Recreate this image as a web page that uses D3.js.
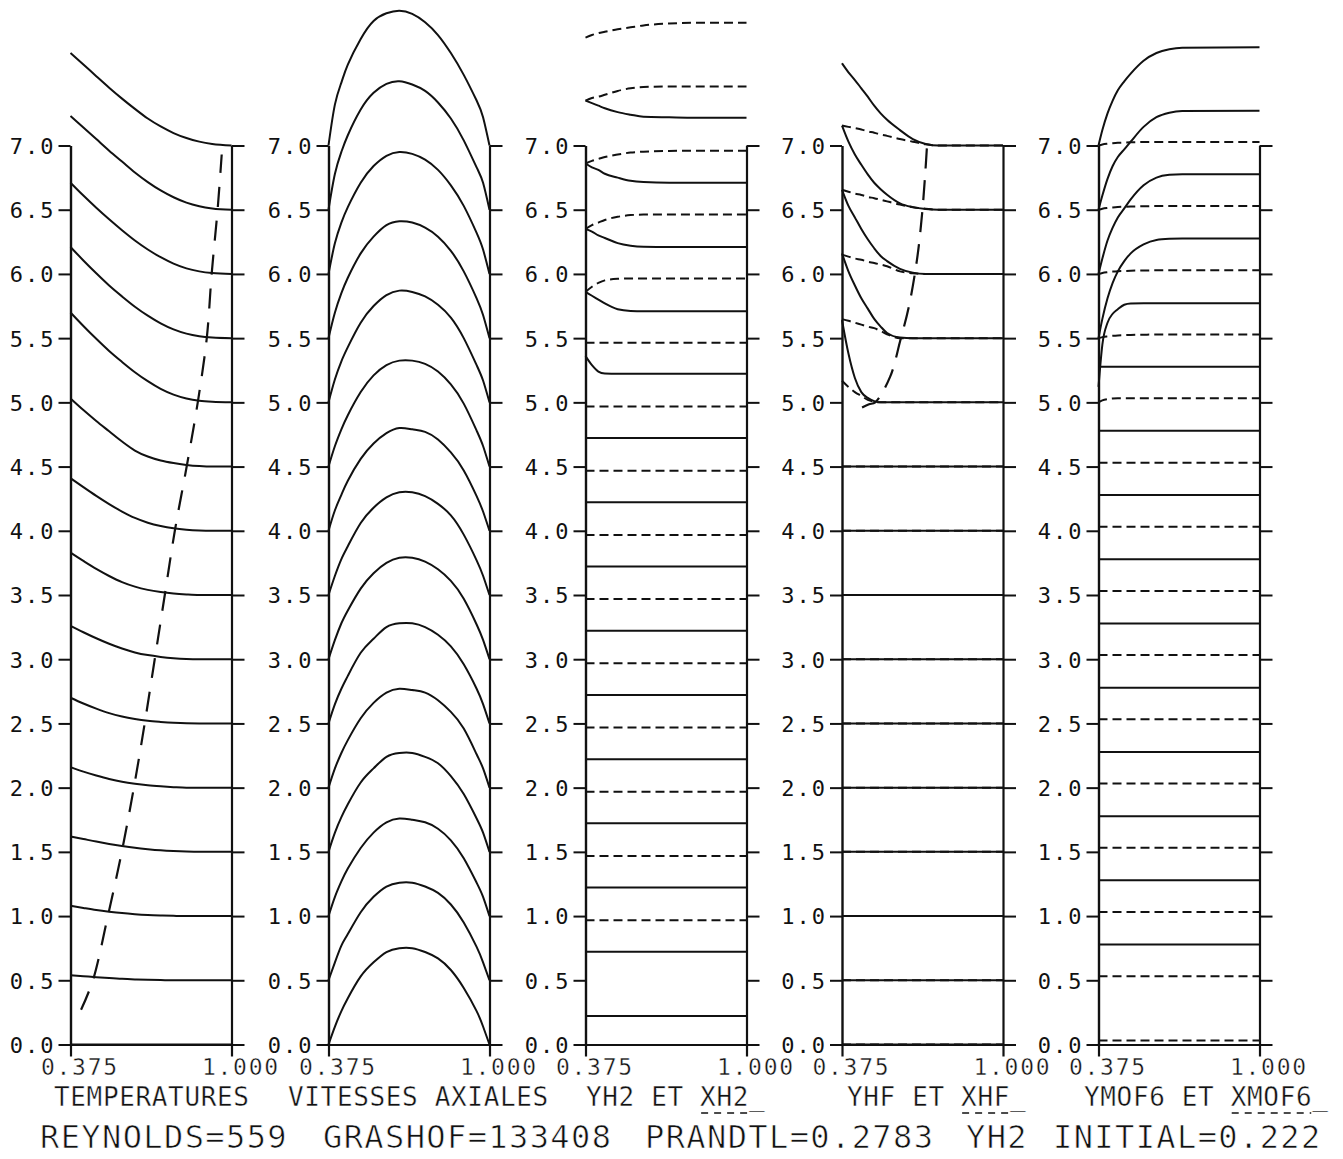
<!DOCTYPE html>
<html><head><meta charset="utf-8">
<script src="https://cdn.jsdelivr.net/npm/d3@7"></script>
<style>
html,body{margin:0;padding:0;background:#fff;}
svg{display:block;background:#fff;}
text{font-family:"DejaVu Sans Mono",monospace;fill:#111;}
.thin{stroke:#fff;stroke-width:0.4px;paint-order:normal;}
.thin2{stroke:#fff;stroke-width:0.7px;paint-order:normal;}
</style></head><body>
<svg id="chart" width="1343" height="1159"></svg>
<script>
// ---------------- DATA ----------------
// vertical offset of each stacked profile (one profile per axial station)
const OFFSETS = [0,0.5,1,1.5,2,2.5,3,3.5,4,4.5,5,5.5,6,6.5,7];
const Y_TICKS = [0,0.5,1,1.5,2,2.5,3,3.5,4,4.5,5,5.5,6,6.5,7];
const X_TICKS = [0.375, 1.0];
const PANEL_TITLES = ["TEMPERATURES","VITESSES AXIALES","YH2 ET XH2_","YHF ET XHF_","YMOF6 ET XMOF6_"];
const FOOTER = ["REYNOLDS=559","GRASHOF=133408","PRANDTL=0.2783","YH2","INITIAL=0.222"];

// Panel 1 : temperatures (excess above each station offset)
const T_X = [0.375,0.425,0.475,0.525,0.575,0.625,0.675,0.725,0.775,0.825,0.875,0.925,1.0];
const T_VAL = [
 [0,0,0,0,0,0,0,0,0,0,0,0,0],
 [0.04,0.032,0.024,0.017,0.011,0.007,0.004,0.002,0,0,0,0,0],
 [0.08,0.063,0.047,0.034,0.023,0.015,0.009,0.005,0.002,0,0,0,0],
 [0.12,0.10,0.08,0.062,0.046,0.032,0.021,0.012,0.006,0.002,0,0,0],
 [0.16,0.125,0.095,0.068,0.046,0.03,0.018,0.01,0.004,0,0,0,0],
 [0.20,0.155,0.115,0.08,0.054,0.035,0.021,0.012,0.005,0.001,0,0,0],
 [0.26,0.21,0.163,0.12,0.083,0.053,0.032,0.018,0.008,0.002,0,0,0],
 [0.33,0.265,0.203,0.148,0.10,0.065,0.04,0.023,0.011,0.004,0,0,0],
 [0.41,0.34,0.272,0.208,0.15,0.10,0.063,0.037,0.019,0.008,0.002,0,0],
 [0.53,0.44,0.355,0.275,0.195,0.125,0.078,0.047,0.027,0.013,0.004,0,0],
 [0.70,0.595,0.495,0.40,0.315,0.235,0.165,0.105,0.06,0.03,0.012,0.004,0],
 [0.71,0.605,0.505,0.41,0.325,0.245,0.175,0.115,0.068,0.035,0.015,0.005,0],
 [0.71,0.61,0.515,0.425,0.34,0.26,0.19,0.13,0.08,0.043,0.02,0.007,0],
 [0.73,0.64,0.55,0.46,0.375,0.29,0.215,0.15,0.097,0.055,0.027,0.01,0],
 [0.72,0.63,0.54,0.45,0.365,0.285,0.21,0.148,0.097,0.058,0.03,0.012,0]
];
const T_FRONT_X = [0.416,0.462,0.520,0.574,0.621,0.663,0.702,0.741,0.780,0.826,0.869,0.904,0.923,0.946,0.962];
const T_FRONT_Y = [0.27,0.5,1.0,1.5,2.0,2.5,3.0,3.5,4.0,4.5,5.0,5.5,6.0,6.5,6.93];

// Panel 2 : axial velocities
const V_X = [0.375,0.40,0.425,0.45,0.50,0.55,0.60,0.65,0.70,0.75,0.80,0.85,0.90,0.95,0.975,1.0];
const V_VAL = [
 [0,0.14,0.26,0.36,0.53,0.64,0.72,0.75,0.75,0.72,0.67,0.58,0.44,0.26,0.14,0],
 [0,0.14,0.27,0.36,0.53,0.65,0.73,0.76,0.76,0.73,0.68,0.59,0.45,0.26,0.14,0],
 [0,0.15,0.27,0.37,0.53,0.65,0.73,0.76,0.75,0.73,0.68,0.59,0.45,0.26,0.15,0],
 [0,0.15,0.27,0.37,0.54,0.65,0.74,0.77,0.77,0.74,0.69,0.59,0.45,0.26,0.15,0],
 [0,0.15,0.27,0.37,0.54,0.66,0.74,0.77,0.76,0.74,0.68,0.59,0.46,0.26,0.15,0],
 [0,0.15,0.27,0.37,0.55,0.66,0.75,0.78,0.78,0.75,0.69,0.60,0.46,0.27,0.15,0],
 [0,0.15,0.28,0.38,0.55,0.67,0.75,0.79,0.79,0.76,0.70,0.61,0.47,0.27,0.15,0],
 [0,0.15,0.28,0.38,0.56,0.68,0.76,0.80,0.80,0.77,0.71,0.62,0.47,0.27,0.15,0],
 [0,0.16,0.28,0.39,0.56,0.68,0.76,0.80,0.79,0.77,0.71,0.61,0.47,0.27,0.15,0],
 [0,0.16,0.29,0.40,0.58,0.71,0.79,0.825,0.825,0.80,0.74,0.64,0.49,0.28,0.16,0],
 [0,0.18,0.32,0.43,0.62,0.75,0.835,0.87,0.86,0.825,0.76,0.66,0.50,0.29,0.17,0],
 [0,0.20,0.35,0.47,0.66,0.79,0.88,0.91,0.90,0.86,0.79,0.68,0.52,0.31,0.18,0],
 [0,0.24,0.40,0.52,0.71,0.84,0.92,0.95,0.935,0.89,0.81,0.69,0.53,0.32,0.19,0],
 [0,0.28,0.45,0.58,0.78,0.91,0.98,1.00,0.975,0.925,0.835,0.71,0.54,0.33,0.21,0],
 [0,0.32,0.49,0.63,0.83,0.97,1.03,1.05,1.025,0.96,0.86,0.72,0.55,0.35,0.22,0]
];

// Panel 3 : H2 mass fraction (solid) and mole fraction (dashed)
const H2_X = [0.375,0.40,0.425,0.45,0.50,0.55,0.60,0.70,0.80,1.0];
const YH2 = [
 [0.222,0.222,0.222,0.222,0.222,0.222,0.222,0.222,0.222,0.222],
 [0.222,0.222,0.222,0.222,0.222,0.222,0.222,0.222,0.222,0.222],
 [0.222,0.222,0.222,0.222,0.222,0.222,0.222,0.222,0.222,0.222],
 [0.222,0.222,0.222,0.222,0.222,0.222,0.222,0.222,0.222,0.222],
 [0.222,0.222,0.222,0.222,0.222,0.222,0.222,0.222,0.222,0.222],
 [0.222,0.222,0.222,0.222,0.222,0.222,0.222,0.222,0.222,0.222],
 [0.222,0.222,0.222,0.222,0.222,0.222,0.222,0.222,0.222,0.222],
 [0.222,0.222,0.222,0.222,0.222,0.222,0.222,0.222,0.222,0.222],
 [0.222,0.222,0.222,0.222,0.222,0.222,0.222,0.222,0.222,0.222],
 [0.222,0.222,0.222,0.222,0.222,0.222,0.222,0.222,0.222,0.222],
 [0.36,0.29,0.24,0.225,0.222,0.222,0.222,0.222,0.222,0.222],
 [0.36,0.33,0.30,0.27,0.225,0.212,0.21,0.21,0.21,0.21],
 [0.35,0.33,0.30,0.28,0.24,0.22,0.212,0.21,0.21,0.21],
 [0.36,0.33,0.31,0.28,0.25,0.225,0.215,0.21,0.21,0.21],
 [0.35,0.33,0.31,0.29,0.26,0.24,0.224,0.22,0.217,0.217]
];
const XH2 = [
 [0.968,0.968,0.968,0.968,0.968,0.968,0.968,0.968,0.968,0.968],
 [0.968,0.968,0.968,0.968,0.968,0.968,0.968,0.968,0.968,0.968],
 [0.968,0.968,0.968,0.968,0.968,0.968,0.968,0.968,0.968,0.968],
 [0.968,0.968,0.968,0.968,0.968,0.968,0.968,0.968,0.968,0.968],
 [0.968,0.968,0.968,0.968,0.968,0.968,0.968,0.968,0.968,0.968],
 [0.968,0.968,0.968,0.968,0.968,0.968,0.968,0.968,0.968,0.968],
 [0.968,0.968,0.968,0.968,0.968,0.968,0.968,0.968,0.968,0.968],
 [0.968,0.968,0.968,0.968,0.968,0.968,0.968,0.968,0.968,0.968],
 [0.968,0.968,0.968,0.968,0.968,0.968,0.968,0.968,0.968,0.968],
 [0.965,0.965,0.965,0.965,0.965,0.965,0.965,0.965,0.965,0.965],
 [0.86,0.90,0.93,0.95,0.962,0.965,0.965,0.965,0.965,0.965],
 [0.85,0.88,0.90,0.92,0.945,0.958,0.962,0.962,0.962,0.962],
 [0.86,0.88,0.895,0.91,0.93,0.945,0.952,0.958,0.96,0.96],
 [0.85,0.87,0.88,0.895,0.925,0.945,0.955,0.96,0.96,0.96],
 [0.84,0.86,0.875,0.885,0.905,0.92,0.935,0.95,0.955,0.955]
];

// Panel 4 : HF mass fraction (solid) and mole fraction (dashed)
const HF_X = [0.375,0.40,0.425,0.45,0.475,0.50,0.525,0.55,0.60,0.65,0.70,0.75,1.0];
const YHF = [
 [0,0,0,0,0,0,0,0,0,0,0,0,0],
 [0,0,0,0,0,0,0,0,0,0,0,0,0],
 [0,0,0,0,0,0,0,0,0,0,0,0,0],
 [0,0,0,0,0,0,0,0,0,0,0,0,0],
 [0,0,0,0,0,0,0,0,0,0,0,0,0],
 [0,0,0,0,0,0,0,0,0,0,0,0,0],
 [0,0,0,0,0,0,0,0,0,0,0,0,0],
 [0,0,0,0,0,0,0,0,0,0,0,0,0],
 [0,0,0,0,0,0,0,0,0,0,0,0,0],
 [0,0,0,0,0,0,0,0,0,0,0,0,0],
 [0.64,0.38,0.19,0.08,0.035,0.01,0,0,0,0,0,0,0],
 [0.66,0.52,0.41,0.31,0.23,0.15,0.09,0.04,0.005,0,0,0,0],
 [0.655,0.53,0.44,0.35,0.27,0.20,0.14,0.10,0.04,0.01,0,0,0],
 [0.655,0.53,0.43,0.35,0.275,0.21,0.16,0.117,0.05,0.02,0.005,0,0],
 [0.64,0.57,0.51,0.445,0.38,0.31,0.25,0.20,0.12,0.05,0.012,0,0]
];
const XHF = [
 [0,0,0,0,0,0,0,0,0,0,0,0,0],
 [0,0,0,0,0,0,0,0,0,0,0,0,0],
 [0,0,0,0,0,0,0,0,0,0,0,0,0],
 [0,0,0,0,0,0,0,0,0,0,0,0,0],
 [0,0,0,0,0,0,0,0,0,0,0,0,0],
 [0,0,0,0,0,0,0,0,0,0,0,0,0],
 [0,0,0,0,0,0,0,0,0,0,0,0,0],
 [0,0,0,0,0,0,0,0,0,0,0,0,0],
 [0,0,0,0,0,0,0,0,0,0,0,0,0],
 [0,0,0,0,0,0,0,0,0,0,0,0,0],
 [0.168,0.12,0.08,0.05,0.02,0.005,0,0,0,0,0,0,0],
 [0.148,0.135,0.12,0.105,0.09,0.078,0.055,0.03,0,0,0,0,0],
 [0.15,0.135,0.12,0.11,0.095,0.085,0.073,0.06,0.02,0.005,0,0,0],
 [0.155,0.14,0.125,0.115,0.10,0.09,0.078,0.065,0.04,0.02,0.008,0,0],
 [0.155,0.145,0.135,0.125,0.11,0.10,0.085,0.075,0.05,0.03,0.01,0,0]
];
const HF_FRONT_X = [0.453,0.480,0.504,0.562,0.601,0.634,0.666,0.686,0.698,0.705];
const HF_FRONT_Y = [4.96,4.985,5.0,5.2,5.48,5.74,6.11,6.47,6.78,7.0];

// Panel 5 : MoF6 mass fraction (solid) and mole fraction (dashed)
const M_X = [0.375,0.39,0.41,0.43,0.45,0.475,0.50,0.55,0.60,0.65,0.70,1.0];
const YMOF6 = [
 [0.778,0.778,0.778,0.778,0.778,0.778,0.778,0.778,0.778,0.778,0.778,0.778],
 [0.778,0.778,0.778,0.778,0.778,0.778,0.778,0.778,0.778,0.778,0.778,0.778],
 [0.778,0.778,0.778,0.778,0.778,0.778,0.778,0.778,0.778,0.778,0.778,0.778],
 [0.778,0.778,0.778,0.778,0.778,0.778,0.778,0.778,0.778,0.778,0.778,0.778],
 [0.778,0.778,0.778,0.778,0.778,0.778,0.778,0.778,0.778,0.778,0.778,0.778],
 [0.778,0.778,0.778,0.778,0.778,0.778,0.778,0.778,0.778,0.778,0.778,0.778],
 [0.778,0.778,0.778,0.778,0.778,0.778,0.778,0.778,0.778,0.778,0.778,0.778],
 [0.778,0.778,0.778,0.778,0.778,0.778,0.778,0.778,0.778,0.778,0.778,0.778],
 [0.778,0.778,0.778,0.778,0.778,0.778,0.778,0.778,0.778,0.778,0.778,0.778],
 [0.778,0.778,0.778,0.778,0.778,0.778,0.778,0.778,0.778,0.778,0.778,0.778],
 [0.12,0.45,0.62,0.69,0.725,0.76,0.77,0.772,0.772,0.772,0.772,0.772],
 [0,0.15,0.31,0.43,0.52,0.60,0.66,0.73,0.765,0.773,0.775,0.775],
 [0,0.12,0.26,0.36,0.44,0.51,0.58,0.69,0.75,0.772,0.777,0.777],
 [0,0.11,0.24,0.34,0.41,0.47,0.53,0.645,0.72,0.755,0.768,0.77],
 [0,0.12,0.25,0.35,0.43,0.50,0.56,0.66,0.72,0.75,0.762,0.765]
];
const XMOF6 = [
 [0.032,0.032,0.032,0.032,0.032,0.032,0.032,0.032,0.032,0.032,0.032,0.032],
 [0.032,0.032,0.032,0.032,0.032,0.032,0.032,0.032,0.032,0.032,0.032,0.032],
 [0.032,0.032,0.032,0.032,0.032,0.032,0.032,0.032,0.032,0.032,0.032,0.032],
 [0.032,0.032,0.032,0.032,0.032,0.032,0.032,0.032,0.032,0.032,0.032,0.032],
 [0.032,0.032,0.032,0.032,0.032,0.032,0.032,0.032,0.032,0.032,0.032,0.032],
 [0.032,0.032,0.032,0.032,0.032,0.032,0.032,0.032,0.032,0.032,0.032,0.032],
 [0.032,0.032,0.032,0.032,0.032,0.032,0.032,0.032,0.032,0.032,0.032,0.032],
 [0.032,0.032,0.032,0.032,0.032,0.032,0.032,0.032,0.032,0.032,0.032,0.032],
 [0.032,0.032,0.032,0.032,0.032,0.032,0.032,0.032,0.032,0.032,0.032,0.032],
 [0.03,0.03,0.03,0.03,0.03,0.03,0.03,0.03,0.03,0.03,0.03,0.03],
 [0,0.015,0.025,0.03,0.032,0.032,0.032,0.032,0.032,0.032,0.032,0.032],
 [0,0.008,0.014,0.018,0.021,0.023,0.025,0.027,0.028,0.028,0.028,0.028],
 [0,0.008,0.014,0.018,0.021,0.023,0.025,0.027,0.028,0.028,0.028,0.028],
 [0,0.008,0.014,0.018,0.021,0.023,0.025,0.027,0.028,0.028,0.028,0.028],
 [0,0.008,0.014,0.018,0.021,0.023,0.025,0.027,0.028,0.028,0.028,0.028]
];

// ---------------- LAYOUT ----------------
const PANEL_LEFT = [70.5, 328.5, 585.5, 842, 1098.5];
const PANEL_W = 161;
const Y_PX = [1044.5, 145.5];
const TITLE_X = [54, 288, 586, 847, 1084];
const FOOTER_X = [40, 323, 645, 966, 1053];
const INK = "#111";

const svg = d3.select("#chart");
const y = d3.scaleLinear().domain([0, 7]).range(Y_PX);

const series = [
  [{x:T_X, v:T_VAL, dash:null, curve:d3.curveMonotoneX}],
  [{x:V_X, v:V_VAL, dash:null, curve:d3.curveNatural}],
  [{x:H2_X, v:YH2, dash:null, curve:d3.curveMonotoneX}, {x:H2_X, v:XH2, dash:"9,5", curve:d3.curveMonotoneX}],
  [{x:HF_X, v:YHF, dash:null, curve:d3.curveMonotoneX}, {x:HF_X, v:XHF, dash:"9,5", curve:d3.curveMonotoneX}],
  [{x:M_X, v:YMOF6, dash:null, curve:d3.curveMonotoneX}, {x:M_X, v:XMOF6, dash:"9,5", curve:d3.curveMonotoneX}]
];

PANEL_LEFT.forEach((left, p) => {
  const x = d3.scaleLinear().domain([0.375, 1.0]).range([left, left + PANEL_W]);
  const g = svg.append("g");

  // left axis with labels
  const ga = g.append("g").attr("transform", `translate(${left},0)`)
    .call(d3.axisLeft(y).tickValues(Y_TICKS).tickSize(12).tickSizeOuter(0).tickPadding(3).tickFormat(d3.format(".1f")));
  ga.attr("font-family", null).attr("font-size", null);
  ga.select(".domain").attr("stroke", INK).attr("stroke-width", 2.4);
  ga.selectAll(".tick line").attr("stroke", INK).attr("stroke-width", 2);
  ga.selectAll(".tick text").attr("fill", INK).style("font-size", "22px").style("letter-spacing", "2px").attr("dy", "0.36em");

  // right axis
  const gr = g.append("g").attr("transform", `translate(${left + PANEL_W},0)`)
    .call(d3.axisRight(y).tickValues(Y_TICKS).tickSize(13).tickSizeOuter(0).tickFormat(""));
  gr.select(".domain").attr("stroke", INK).attr("stroke-width", 2.2);
  gr.selectAll(".tick line").attr("stroke", INK).attr("stroke-width", 2);

  // bottom axis
  const gb = g.append("g").attr("transform", `translate(0,${Y_PX[0]})`)
    .call(d3.axisBottom(x).tickValues(X_TICKS).tickSize(12).tickSizeOuter(0).tickFormat(d3.format(".3f")));
  gb.attr("font-family", null).attr("font-size", null);
  gb.select(".domain").attr("stroke", INK).attr("stroke-width", 2.2);
  gb.selectAll(".tick line").attr("stroke", INK).attr("stroke-width", 2.2);
  gb.selectAll(".tick text").attr("fill", INK).attr("text-anchor", "start").attr("x", -30).attr("y", 30.5).attr("dy", null)
    .attr("class", "thin").style("font-size", "23px").style("letter-spacing", "1.7px");

  // profiles
  series[p].forEach(s => {
    const line = d3.line().x(d => x(d[0])).y(d => y(d[1])).curve(s.curve);
    s.v.forEach((vals, k) => {
      const pts = vals.map((v, i) => [s.x[i], OFFSETS[k] + v]);
      g.append("path").attr("d", line(pts)).attr("fill", "none")
        .attr("stroke", INK).attr("stroke-width", 2)
        .attr("stroke-dasharray", s.dash);
    });
  });

  // boundary-layer fronts
  const front = d3.line().x(d => x(d[0])).y(d => y(d[1])).curve(d3.curveCatmullRom);
  if (p === 0) {
    g.append("path").attr("d", front(T_FRONT_X.map((v, i) => [v, T_FRONT_Y[i]])))
      .attr("fill", "none").attr("stroke", INK).attr("stroke-width", 2.2).attr("stroke-dasharray", "20,14");
  }
  if (p === 3) {
    g.append("path").attr("d", front(HF_FRONT_X.map((v, i) => [v, HF_FRONT_Y[i]])))
      .attr("fill", "none").attr("stroke", INK).attr("stroke-width", 2.2).attr("stroke-dasharray", "20,12");
  }

  // panel title
  const fs = 26, pitch = fs * 0.602 + 0.65;
  g.append("text").attr("class", "thin").attr("x", TITLE_X[p]).attr("y", 1106)
    .style("font-size", fs + "px").style("letter-spacing", "0.65px").text(PANEL_TITLES[p]);
  const title = PANEL_TITLES[p];
  const et = title.indexOf(" ET ");
  if (et >= 0) {
    const start = et + 4, end = title.length - 1;
    g.append("line")
      .attr("x1", TITLE_X[p] + start * pitch + 1).attr("x2", TITLE_X[p] + end * pitch - 1)
      .attr("y1", 1113).attr("y2", 1113)
      .attr("stroke", INK).attr("stroke-width", 1.6).attr("stroke-dasharray", "7,6");
  }
});

// footer
svg.append("g").selectAll("text").data(FOOTER).join("text")
  .attr("class", "thin2")
  .attr("x", (d, i) => FOOTER_X[i]).attr("y", 1148)
  .style("font-size", "32px").style("letter-spacing", "1.4px")
  .text(d => d);
</script>
</body></html>
